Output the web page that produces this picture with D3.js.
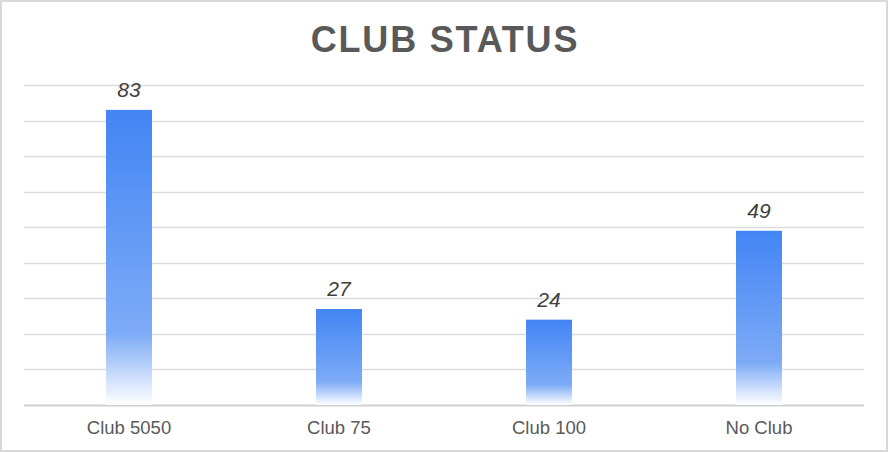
<!DOCTYPE html>
<html lang="en">
<head>
<meta charset="utf-8" />
<title>Club Status</title>
<script src="https://cdn.jsdelivr.net/npm/d3@7"></script>
<style>
  body { margin: 0; background: #fff; }
  svg { display: block; font-family: "Liberation Sans", Arial, sans-serif; }
</style>
</head>
<body>
<script>
  // data
  var categories = ["Club 5050", "Club 75", "Club 100", "No Club"];
  var counts = [83, 27, 24, 49];
  var gridTicks = [0, 10, 20, 30, 40, 50, 60, 70, 80, 90];

  var width = 888, height = 452;
  var plotLeft = 24, plotRight = 864, plotTop = 85, plotBottom = 405;

  var svg = d3.select("body").append("svg")
      .attr("width", width)
      .attr("height", height);

  // bar gradient: strong blue on top, fading to white at the base
  var grad = svg.append("defs").append("linearGradient")
      .attr("id", "barFill")
      .attr("x1", 0).attr("y1", 0).attr("x2", 0).attr("y2", 1);
  grad.append("stop").attr("offset", "0%").attr("stop-color", "#4285f4");
  grad.append("stop").attr("offset", "76%").attr("stop-color", "#7eabf7");
  grad.append("stop").attr("offset", "100%").attr("stop-color", "#ffffff");

  // frame
  svg.append("rect")
      .attr("x", 1).attr("y", 1)
      .attr("width", width - 2).attr("height", height - 2)
      .attr("fill", "#fff")
      .attr("stroke", "#d9d9d9")
      .attr("stroke-width", 2);

  var x = d3.scaleBand()
      .domain(categories)
      .range([plotLeft, plotRight])
      .paddingInner(0.78)
      .paddingOuter(0.39);

  var y = d3.scaleLinear()
      .domain([0, 90])
      .range([plotBottom, plotTop]);

  /* gridlines */
  svg.append("g")
      .selectAll("line")
      .data(gridTicks)
      .enter()
      .append("line")
      .attr("x1", plotLeft)
      .attr("x2", plotRight)
      .attr("y1", function(d) { return Math.round(y(d)) + 0.5; })
      .attr("y2", function(d) { return Math.round(y(d)) + 0.5; })
      .attr("stroke", function(d) { return d === 0 ? "#cfcfcf" : "#dcdcdc"; })
      .attr("stroke-width", function(d) { return d === 0 ? 2 : 1.3; });

  /* bars */
  var bw = 46;
  svg.append("g")
      .selectAll("rect")
      .data(counts)
      .enter()
      .append("rect")
      .attr("x", function(d, i) { return x(categories[i]) + x.bandwidth() / 2 - bw / 2; })
      .attr("y", function(d) { return y(d); })
      .attr("width", bw)
      .attr("height", function(d) { return plotBottom - y(d); })
      .attr("fill", "url(#barFill)");

  /* value labels */
  svg.append("g")
      .selectAll("text")
      .data(counts)
      .enter()
      .append("text")
      .attr("x", function(d, i) { return x(categories[i]) + x.bandwidth() / 2; })
      .attr("y", function(d) { return y(d) - 13; })
      .attr("text-anchor", "middle")
      .attr("font-size", 21)
      .attr("font-style", "italic")
      .attr("fill", "#404040")
      .text(function(d) { return d; });

  /* category labels */
  svg.append("g")
      .selectAll("text")
      .data(categories)
      .enter()
      .append("text")
      .attr("x", function(d) { return x(d) + x.bandwidth() / 2; })
      .attr("y", 434)
      .attr("text-anchor", "middle")
      .attr("font-size", 18.5)
      .attr("fill", "#595959")
      .text(function(d) { return d; });

  /* title */
  svg.append("text")
      .attr("x", width / 2 + 1)
      .attr("y", 52)
      .attr("text-anchor", "middle")
      .attr("font-size", 36)
      .attr("font-weight", "bold")
      .attr("letter-spacing", 1.8)
      .attr("fill", "#595959")
      .text("CLUB STATUS");
</script>
</body>
</html>
